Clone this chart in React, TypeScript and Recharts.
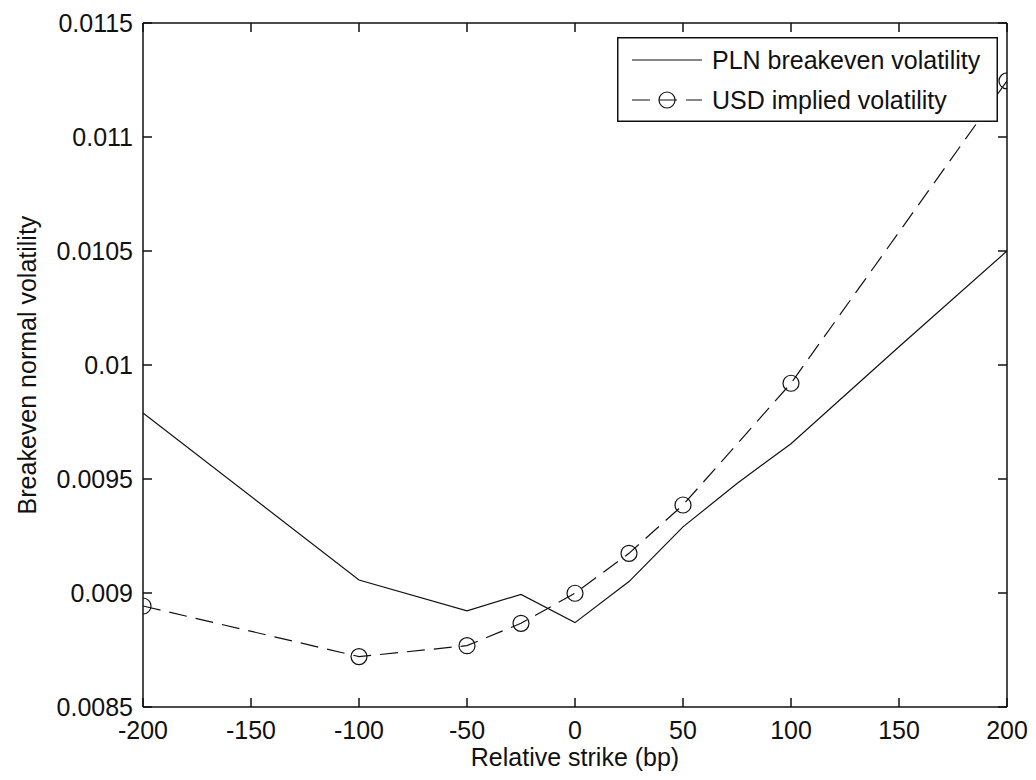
import { LineChart, Line, XAxis, YAxis, Legend } from 'recharts'

const strikeTicks = [-200, -150, -100, -50, 0, 50, 100, 150, 200]
const volTicks = [0.0085, 0.009, 0.0095, 0.01, 0.0105, 0.011, 0.0115]

const plnStrikes = [-200, -100, -50, -25, 0, 25, 50, 75, 100, 150, 200]
const plnVol = [0.00979, 0.009057, 0.008922, 0.008994, 0.00887, 0.00905, 0.00929, 0.00948, 0.009655, 0.01008, 0.0105]

const usdStrikes = [-200, -100, -50, -25, 0, 25, 50, 100, 200]
const usdVol = [0.008943, 0.008721, 0.008769, 0.008867, 0.008999, 0.009174, 0.009386, 0.00992, 0.011246]

const plnData = plnStrikes.map((strike, i) => ({ strike, vol: plnVol[i] }))
const usdData = usdStrikes.map((strike, i) => ({ strike, vol: usdVol[i] }))

const FONT = '"Liberation Sans", Arial, sans-serif'
const FS = 25
const INK = '#111'
const TICK = 9
// recharts hands the tick at tickSize + tickMargin away from the axis line
const OFF = 8

const BottomTick = ({ x, y, payload }: any) => {
  const ay = y - OFF
  return (
    <g>
      <line x1={x} y1={ay} x2={x} y2={ay - TICK} stroke={INK} strokeWidth={1.5} />
      <text x={x} y={ay + 23} textAnchor="middle" dominantBaseline="central" fontFamily={FONT} fontSize={FS} fill={INK}>
        {payload.value}
      </text>
    </g>
  )
}

const TopTick = ({ x, y }: any) => {
  const ay = y + OFF
  return <line x1={x} y1={ay} x2={x} y2={ay + TICK} stroke={INK} strokeWidth={1.5} />
}

const LeftTick = ({ x, y, payload }: any) => {
  const ax = x + OFF
  return (
    <g>
      <line x1={ax} y1={y} x2={ax + TICK} y2={y} stroke={INK} strokeWidth={1.5} />
      <text x={ax - 10} y={y} textAnchor="end" dominantBaseline="central" fontFamily={FONT} fontSize={FS} fill={INK}>
        {String(payload.value)}
      </text>
    </g>
  )
}

const RightTick = ({ x, y }: any) => {
  const ax = x - OFF
  return <line x1={ax} y1={y} x2={ax - TICK} y2={y} stroke={INK} strokeWidth={1.5} />
}

const XTitle = ({ viewBox }: any) => (
  <text
    x={viewBox.x + viewBox.width / 2}
    y={749}
    textAnchor="middle"
    dominantBaseline="central"
    fontFamily={FONT}
    fontSize={FS}
    fill={INK}
  >
    Relative strike (bp)
  </text>
)

const YTitle = ({ viewBox }: any) => {
  const cx = 19
  const cy = viewBox.y + viewBox.height / 2
  return (
    <text
      x={cx}
      y={cy}
      transform={`rotate(-90 ${cx} ${cy})`}
      textAnchor="middle"
      dominantBaseline="central"
      fontFamily={FONT}
      fontSize={FS}
      fill={INK}
    >
      Breakeven normal volatility
    </text>
  )
}

const LegendBox = () => (
  <svg width={381} height={85} style={{ display: 'block' }}>
    <rect x={0.75} y={0.75} width={379.5} height={83.5} fill="#fff" stroke={INK} strokeWidth={1.5} />
    <line x1={15} y1={23} x2={85} y2={23} stroke={INK} strokeWidth={1.2} />
    <text x={95} y={23} dominantBaseline="central" fontFamily={FONT} fontSize={FS} fill={INK}>
      PLN breakeven volatility
    </text>
    <line x1={15} y1={63} x2={85} y2={63} stroke={INK} strokeWidth={1.2} strokeDasharray="18 9" />
    <circle cx={50} cy={63} r={8} fill="none" stroke={INK} strokeWidth={1.2} />
    <text x={95} y={63} dominantBaseline="central" fontFamily={FONT} fontSize={FS} fill={INK}>
      USD implied volatility
    </text>
  </svg>
)

const axisLine = { stroke: INK, strokeWidth: 1.5 }

export default function App() {
  return (
    <div style={{ width: 1020, height: 764, background: '#fff' }}>
      <LineChart width={1020} height={764} margin={{ top: 14, right: 20, bottom: 0, left: 0 }}>
        <XAxis
          xAxisId="b"
          dataKey="strike"
          type="number"
          domain={[-200, 200]}
          ticks={strikeTicks}
          interval={0}
          allowDataOverflow
          height={65}
          tickSize={6}
          tickMargin={2}
          tickLine={false}
          axisLine={axisLine}
          tick={<BottomTick />}
          label={<XTitle />}
        />
        <XAxis
          xAxisId="t"
          orientation="top"
          dataKey="strike"
          type="number"
          domain={[-200, 200]}
          ticks={strikeTicks}
          interval={0}
          allowDataOverflow
          height={1}
          tickSize={6}
          tickMargin={2}
          tickLine={false}
          axisLine={axisLine}
          tick={<TopTick />}
        />
        <YAxis
          yAxisId="l"
          type="number"
          domain={[0.0085, 0.0115]}
          ticks={volTicks}
          interval={0}
          allowDataOverflow
          width={135}
          tickSize={6}
          tickMargin={2}
          tickLine={false}
          axisLine={axisLine}
          tick={<LeftTick />}
          label={<YTitle />}
        />
        <YAxis
          yAxisId="r"
          orientation="right"
          type="number"
          domain={[0.0085, 0.0115]}
          ticks={volTicks}
          interval={0}
          allowDataOverflow
          width={1}
          tickSize={6}
          tickMargin={2}
          tickLine={false}
          axisLine={axisLine}
          tick={<RightTick />}
        />
        <Line
          xAxisId="b"
          yAxisId="l"
          data={plnData}
          dataKey="vol"
          name="PLN breakeven volatility"
          type="linear"
          stroke={INK}
          strokeWidth={1.2}
          dot={false}
          activeDot={false}
          isAnimationActive={false}
        />
        <Line
          xAxisId="b"
          yAxisId="l"
          data={usdData}
          dataKey="vol"
          name="USD implied volatility"
          type="linear"
          stroke={INK}
          strokeWidth={1.2}
          strokeDasharray="18 9"
          dot={{ r: 8, fill: 'none', stroke: INK, strokeWidth: 1.2, strokeDasharray: 'none' }}
          activeDot={false}
          isAnimationActive={false}
        />
        <Legend
          layout="vertical"
          align="center"
          verticalAlign="middle"
          content={<LegendBox />}
          wrapperStyle={{ position: 'absolute', left: 609, top: 29, width: 381, height: 85 }}
        />
      </LineChart>
    </div>
  )
}
